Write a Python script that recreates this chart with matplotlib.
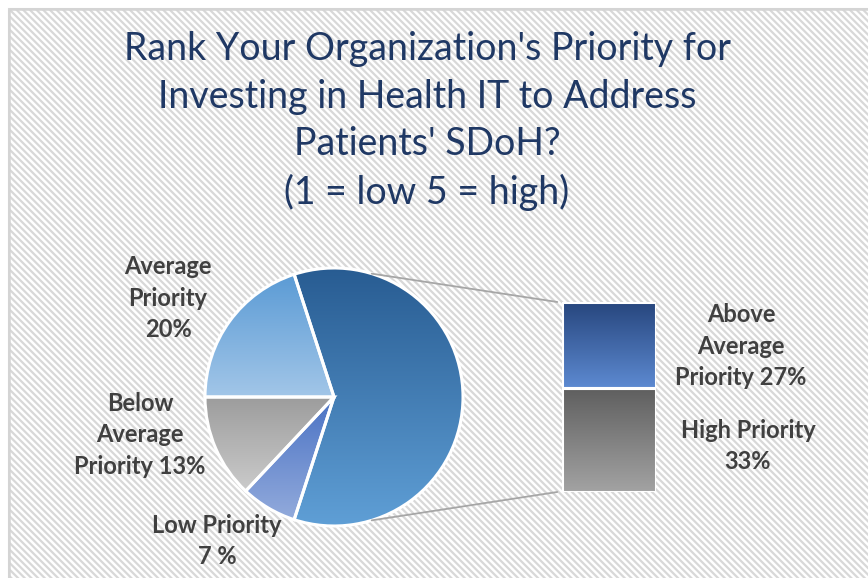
import numpy as np
import matplotlib
matplotlib.use("Agg")
import matplotlib.pyplot as plt
from matplotlib.patches import Rectangle, ConnectionPatch
from matplotlib.colors import LinearSegmentedColormap

# chart data
title = ("Rank Your Organization's Priority for\nInvesting in Health IT to Address\n"
         "Patients' SDoH?\n(1 = low 5 = high)")

bar_names = ["High Priority\n{}%", "Above\nAverage\nPriority {}%"]
bar_values = [33, 27]

pie_names = ["Average\nPriority\n{}%", "Below\nAverage\nPriority {}%", "Low Priority\n{} %"]
pie_values = [20, 13, 7]

# gradients (top, bottom)
other_grad = ("#285c92", "#5f9fd6")
pie_grads = [("#5b9bd5", "#a2c6e8"), ("#9c9c9c", "#cbcbcb"), ("#4a72c4", "#93abdc")]
bar_grads = [("#5e5e5e", "#a3a3a3"), ("#27467d", "#5d8ad2")]

plt.rcParams['font.family'] = ['Lato', 'DejaVu Sans']
plt.rcParams['hatch.linewidth'] = 1.6

W, H = 868, 578
fig = plt.figure(figsize=(W / 100, H / 100), dpi=100)


def box(l, t, r, b):
    return [l / W, 1 - b / H, (r - l) / W, (b - t) / H]


def fill_gradient(ax, patch, top, bottom):
    bb = patch.get_extents().transformed(ax.transData.inverted())
    cmap = LinearSegmentedColormap.from_list('g', [top, bottom])
    grad = np.linspace(0, 1, 256).reshape(-1, 1)
    im = ax.imshow(grad, cmap=cmap, extent=(bb.x0, bb.x1, bb.y0, bb.y1),
                   origin='upper', aspect='auto', interpolation='bilinear',
                   zorder=2)
    im.set_clip_path(patch)
    patch.set_facecolor('none')
    patch.set_zorder(3)


# background with hatching
bg = fig.add_axes([0, 0, 1, 1], zorder=-1)
bg.set_xlim(0, W)
bg.set_ylim(H, 0)
bg.axis('off')
bg.add_patch(Rectangle((9, 9), 1000, 1000, facecolor='white', edgecolor='#d8d8d8',
                       hatch='\\\\\\\\\\', lw=1.5))
bg.add_patch(Rectangle((9, 9), 1000, 1000, facecolor='none', edgecolor='#d4d4d4', lw=1.8))

bg.text(427, 121, title, ha='center', va='center', fontsize=27,
        color='#1f3864', linespacing=1.39)

# pie (the "other" slice holds the bar)
ax_pie = fig.add_axes(box(205, 268, 463, 526))
vals = [sum(bar_values)] + pie_values
start = -180 * vals[0] / sum(vals)
wedges, _ = ax_pie.pie(vals, startangle=start, counterclock=True,
                       wedgeprops=dict(edgecolor='white', linewidth=2.2))
ax_pie.set_xlim(-1, 1)
ax_pie.set_ylim(-1, 1)
for w, g in zip(wedges, [other_grad] + pie_grads):
    fill_gradient(ax_pie, w, *g)
ax_pie.set_xlim(-1, 1)
ax_pie.set_ylim(-1, 1)
ax_pie.axis('off')

# bar of the split slice
ax_bar = fig.add_axes(box(562, 302, 656, 492))
bottom = 0
bars = []
for v in bar_values:
    b = ax_bar.bar([0], [v], bottom=bottom, width=1, edgecolor='white', linewidth=2.2)[0]
    bars.append(b)
    bottom += v
for b, g in zip(bars, bar_grads):
    fill_gradient(ax_bar, b, *g)
ax_bar.set_xlim(-0.5, 0.5)
ax_bar.set_ylim(0, sum(bar_values))
ax_bar.axis('off')

# connector lines
ang = np.deg2rad(73)
for sgn, yb in [(1, sum(bar_values)), (-1, 0)]:
    con = ConnectionPatch(xyA=(np.cos(ang), sgn * np.sin(ang)), coordsA=ax_pie.transData,
                          xyB=(-0.55, yb), coordsB=ax_bar.transData,
                          color='#a6a6a6', lw=1.3)
    fig.add_artist(con)

# data labels
lab = dict(ha='center', va='center', fontsize=17, fontweight='bold',
           color='#404040', linespacing=1.45)
pie_pos = [(168, 298), (140, 435), (217, 541)]
for name, v, (x, y) in zip(pie_names, pie_values, pie_pos):
    bg.text(x, y, name.format(v), **lab)
bar_pos = [(748, 446), (741, 346)]
for name, v, (x, y) in zip(bar_names, bar_values, bar_pos):
    bg.text(x, y, name.format(v), **lab)

fig.savefig('out.png', dpi=100)
